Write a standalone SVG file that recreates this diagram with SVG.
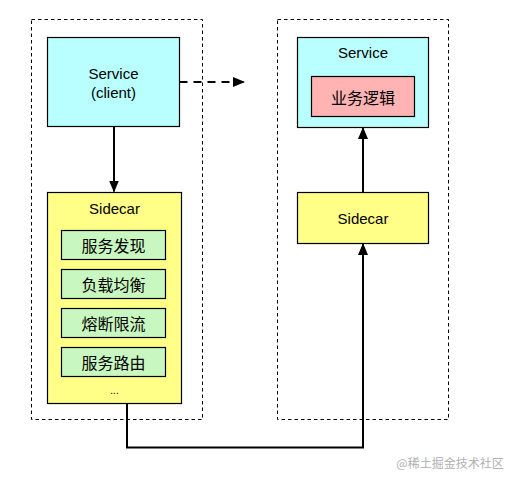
<svg xmlns="http://www.w3.org/2000/svg" width="512" height="481" viewBox="0 0 512 481">
<style>
.box{stroke:#000;stroke-width:1.2}
.cont{fill:none;stroke:#000;stroke-width:1;stroke-dasharray:3.5 3}
.t{font-family:"Liberation Sans","Noto Sans CJK SC",Arial,sans-serif;font-size:15px;fill:#000;text-anchor:middle;dominant-baseline:central}
.c{font-family:"Noto Sans CJK SC","Liberation Sans",sans-serif;font-size:16px;fill:#000;text-anchor:middle;dominant-baseline:central}
.line{fill:none;stroke:#000;stroke-width:2}
</style>
<defs>
<marker id="ah" viewBox="0 0 12 10" refX="11" refY="5" markerWidth="6" markerHeight="5" orient="auto" markerUnits="strokeWidth">
<path d="M0,0 L12,5 L0,10 z" fill="#000"/>
</marker>
</defs>
<rect width="512" height="481" fill="#fff"/>
<g id="left-container"><rect class="cont" x="31.5" y="19.5" width="171" height="400"/></g>
<g id="right-container"><rect class="cont" x="277.5" y="19.5" width="171" height="400"/></g>
<g id="service-client">
<rect class="box" x="47.5" y="37.5" width="132" height="89" fill="#b9ffff"/>
<text class="t" x="113.5" y="73">Service</text>
<text class="t" x="113.5" y="92">(client)</text>
</g>
<g id="sidecar-left">
<rect class="box" x="47.5" y="192.5" width="134" height="211" fill="#ffff88"/>
<text class="t" x="114.5" y="208">Sidecar</text>
<text class="t" x="114.5" y="390" style="font-size:10px">...</text>
</g>
<g id="service-discovery"><rect class="box" x="61.5" y="230.5" width="104" height="29" fill="#c8f7c0"/><text class="c" x="113.5" y="245">服务发现</text></g>
<g id="load-balance"><rect class="box" x="61.5" y="269.5" width="104" height="29" fill="#c8f7c0"/><text class="c" x="113.5" y="284">负载均衡</text></g>
<g id="circuit-breaker"><rect class="box" x="61.5" y="308.5" width="104" height="29" fill="#c8f7c0"/><text class="c" x="113.5" y="323">熔断限流</text></g>
<g id="routing"><rect class="box" x="61.5" y="347.5" width="104" height="29" fill="#c8f7c0"/><text class="c" x="113.5" y="362">服务路由</text></g>
<g id="service-right">
<rect class="box" x="297.5" y="37.5" width="131" height="90" fill="#b9ffff"/>
<text class="t" x="363" y="52">Service</text>
</g>
<g id="business-logic"><rect class="box" x="311.5" y="76.5" width="103" height="40" fill="#ffb3b3"/><text class="c" x="363" y="97">业务逻辑</text></g>
<g id="sidecar-right">
<rect class="box" x="297.5" y="192.5" width="131" height="51" fill="#ffff88"/>
<text class="t" x="363" y="218">Sidecar</text>
</g>
<g id="connectors">
<path class="line" d="M179.5,82 L244,82" stroke-dasharray="8 6" marker-end="url(#ah)"/>
<path class="line" d="M114,127 L114,191.5" marker-end="url(#ah)"/>
<path class="line" d="M363,192 L363,128" marker-end="url(#ah)"/>
<path class="line" d="M127,404 L127,447.5 L363,447.5 L363,244" marker-end="url(#ah)"/>
</g>
<text x="450" y="462" style="font-family:'Noto Sans CJK SC',sans-serif;font-size:12px;fill:#b0b0b0;text-anchor:middle;dominant-baseline:central">@稀土掘金技术社区</text>
</svg>
